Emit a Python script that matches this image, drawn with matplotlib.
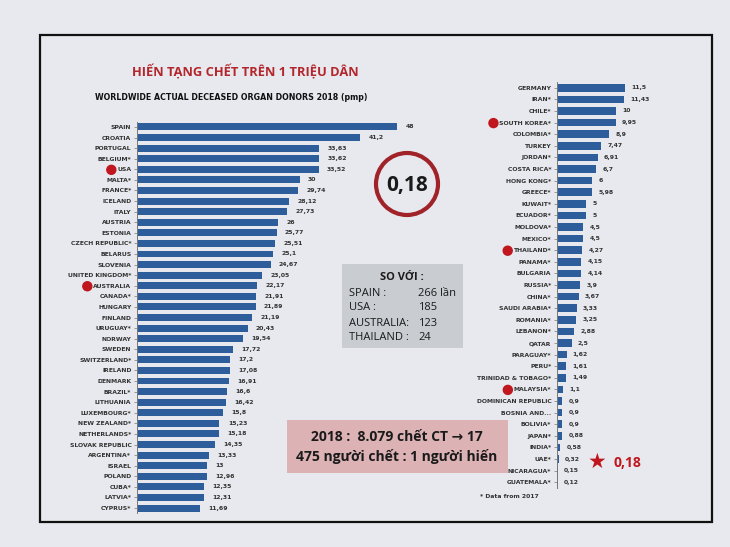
import matplotlib
matplotlib.use("Agg")
import matplotlib.pyplot as plt
from matplotlib.patches import Rectangle, Circle

# data
left_countries = ["SPAIN", "CROATIA", "PORTUGAL", "BELGIUM*", "USA", "MALTA*", "FRANCE*", "ICELAND",
                  "ITALY", "AUSTRIA", "ESTONIA", "CZECH REPUBLIC*", "BELARUS", "SLOVENIA",
                  "UNITED KINGDOM*", "AUSTRALIA", "CANADA*", "HUNGARY", "FINLAND", "URUGUAY*",
                  "NORWAY", "SWEDEN", "SWITZERLAND*", "IRELAND", "DENMARK", "BRAZIL*", "LITHUANIA",
                  "LUXEMBOURG*", "NEW ZEALAND*", "NETHERLANDS*", "SLOVAK REPUBLIC", "ARGENTINA*",
                  "ISRAEL", "POLAND", "CUBA*", "LATVIA*", "CYPRUS*"]
left_values = [48, 41.2, 33.63, 33.62, 33.52, 30, 29.74, 28.12, 27.73, 26, 25.77, 25.51, 25.1, 24.67,
               23.05, 22.17, 21.91, 21.89, 21.19, 20.43, 19.54, 17.72, 17.2, 17.08, 16.91, 16.6, 16.42,
               15.8, 15.23, 15.18, 14.35, 13.33, 13, 12.96, 12.35, 12.31, 11.69]

right_countries = ["GERMANY", "IRAN*", "CHILE*", "SOUTH KOREA*", "COLOMBIA*", "TURKEY", "JORDAN*",
                   "COSTA RICA*", "HONG KONG*", "GREECE*", "KUWAIT*", "ECUADOR*", "MOLDOVA*", "MEXICO*",
                   "THAILAND*", "PANAMA*", "BULGARIA", "RUSSIA*", "CHINA*", "SAUDI ARABIA*", "ROMANIA*",
                   "LEBANON*", "QATAR", "PARAGUAY*", "PERU*", "TRINIDAD & TOBAGO*", "MALAYSIA*",
                   "DOMINICAN REPUBLIC", "BOSNIA AND...", "BOLIVIA*", "JAPAN*", "INDIA*", "UAE*",
                   "NICARAGUA*", "GUATEMALA*"]
right_values = [11.5, 11.43, 10, 9.95, 8.9, 7.47, 6.91, 6.7, 6, 5.98, 5, 5, 4.5, 4.5, 4.27, 4.15, 4.14,
                3.9, 3.67, 3.33, 3.25, 2.88, 2.5, 1.62, 1.61, 1.49, 1.1, 0.9, 0.9, 0.9, 0.88, 0.58,
                0.32, 0.15, 0.12]

highlighted = ["USA", "AUSTRALIA", "SOUTH KOREA*", "THAILAND*", "MALAYSIA*"]

compare_names = ["SPAIN :", "USA :", "AUSTRALIA:", "THAILAND :"]
compare_times = ["266 lần", "185", "123", "24"]

W, H = 730, 547
BAR = "#2d5d9b"
RED = "#b3262c"
BG = "#e7e9ee"
label_font = ["DejaVu Sans"]
box_font = ["Open Sans", "DejaVu Sans"]


def px(x, y):
    # pixel position on the slide -> figure fraction
    return x / W, 1 - y / H


fig = plt.figure(figsize=(7.3, 5.47), dpi=100, facecolor=BG)

# slide frame
fig.patches.append(Rectangle(px(40, 522), 672 / W, 487 / H, transform=fig.transFigure,
                             fill=False, edgecolor="#111111", linewidth=1.6))


def draw_bars(ax, names, values, offset):
    ypos = range(len(names))
    ax.barh(ypos, values, height=0.66, color=BAR)
    ax.set_ylim(len(names) - 0.5, -0.5)
    ax.set_yticks(list(ypos))
    ax.set_yticklabels(names, fontsize=4.4, fontweight="bold", color="#333333", family=label_font)
    ax.set_xticks([])
    ax.set_facecolor("none")
    for s in ["top", "right", "bottom"]:
        ax.spines[s].set_visible(False)
    ax.spines["left"].set_color("#777777")
    ax.spines["left"].set_linewidth(0.7)
    ax.tick_params(axis="y", length=2, width=0.5, color="#777777", pad=2)
    for i, v in enumerate(values):
        ax.annotate(f"{v:g}".replace(".", ","), (v, i), xytext=(offset, 0),
                    textcoords="offset points", va="center", ha="left",
                    fontsize=4.4, fontweight="bold", color="#333333", family=label_font)


ax1 = fig.add_axes([137 / W, 1 - 513.3 / H, 273 / W, 391.6 / H])
draw_bars(ax1, left_countries, left_values, 6)
ax1.set_xlim(0, 50.4)

ax2 = fig.add_axes([557 / W, 1 - 488 / H, 100 / W, 406 / H])
draw_bars(ax2, right_countries, right_values, 4.5)
ax2.set_xlim(0, 17)

# red dots before highlighted countries
fig.canvas.draw()
for ax in (ax1, ax2):
    for lab in ax.get_yticklabels():
        if lab.get_text() in highlighted:
            bb = lab.get_window_extent()
            cx = (bb.x0 - 6) / 100
            cy = (bb.y0 + bb.y1) / 2 / 100
            fig.patches.append(Circle((cx, cy), 4.5 / 100, transform=fig.dpi_scale_trans,
                                      color="#c0161e", zorder=5))

# titles
fig.text(*px(245, 72), "HIẾN TẠNG CHẾT TRÊN 1 TRIỆU DÂN", color=RED, fontsize=9.3,
         fontweight="bold", ha="center", va="center", family=box_font)
fig.text(*px(231, 98), "WORLDWIDE ACTUAL DECEASED ORGAN DONORS 2018 (pmp)", color="#111111",
         fontsize=5.7, fontweight="bold", ha="center", va="center", family=label_font)

# circled 0,18
fig.patches.append(Circle((407 / 100, (H - 184) / 100), 31 / 100, transform=fig.dpi_scale_trans,
                          fill=False, edgecolor="#a0232a", linewidth=3))
fig.text(*px(407, 185), "0,18", fontsize=15, fontweight="bold", color="#1a1a1a",
         ha="center", va="center", family=box_font)

# comparison box
fig.patches.append(Rectangle(px(342, 348), 121 / W, 84 / H, transform=fig.transFigure,
                             facecolor="#c9cdd2", edgecolor="none"))
fig.text(*px(402, 278), "SO VỚI :", fontsize=8, fontweight="bold", color="#1a1a1a",
         ha="center", va="center", family=box_font)
for k, (n, t) in enumerate(zip(compare_names, compare_times)):
    y = 293 + k * 15
    fig.text(*px(349, y), n, fontsize=8, color="#1a1a1a", ha="left", va="center", family=box_font)
    fig.text(*px(418, y), t, fontsize=8, color="#1a1a1a", ha="left", va="center", family=box_font)

# pink note box
fig.patches.append(Rectangle(px(287, 473), 221 / W, 53 / H, transform=fig.transFigure,
                             facecolor="#dcb2b4", edgecolor="none"))
fig.text(*px(397, 437), "2018 :  8.079 chết CT → 17", fontsize=10, fontweight="bold",
         color="#1a1a1a", ha="center", va="center", family=box_font)
fig.text(*px(397, 457), "475 người chết : 1 người hiến", fontsize=10, fontweight="bold",
         color="#1a1a1a", ha="center", va="center", family=box_font)

# star marker for Vietnam
fig.text(*px(597, 462), "★", fontsize=15, color="#c0161e", ha="center", va="center",
         family=["DejaVu Sans"])
fig.text(*px(613, 463), "0,18", fontsize=10, fontweight="bold", color="#c0161e",
         ha="left", va="center", family=box_font)

fig.text(*px(480, 496), "* Data from 2017", fontsize=4.4, fontweight="bold", color="#333333",
         ha="left", va="center", family=label_font)

fig.savefig("out.png", dpi=100, facecolor=BG)
